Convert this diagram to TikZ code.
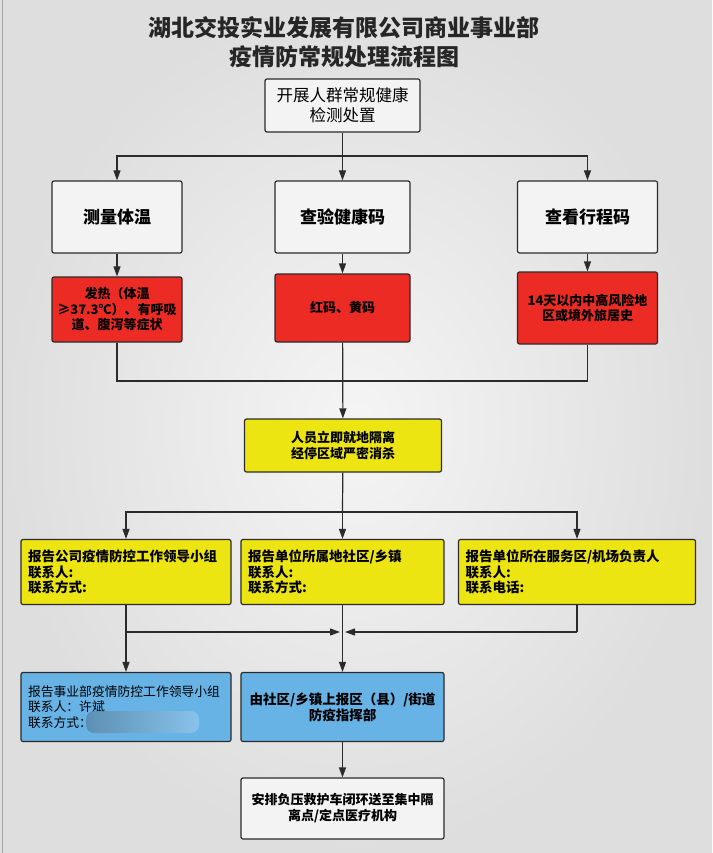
\documentclass[tikz,border=0pt]{standalone}
\usepackage{fontspec}
\setmainfont{Noto Sans CJK SC}
\usetikzlibrary{arrows.meta}
\definecolor{lc}{HTML}{2B2B2B}
\definecolor{cw}{HTML}{F3F3F3}
\definecolor{cr}{HTML}{EC2B24}
\definecolor{cy}{HTML}{EDE512}
\definecolor{cb}{HTML}{68B3E6}
\newcommand\myfs[2]{\fontsize{#1}{#2}\selectfont}
\begin{document}
\begin{tikzpicture}[x=1pt,y=-1pt,
  box/.style={draw=lc, line width=1.2pt, rounded corners=2pt, inner sep=0pt, align=center, text=black},
  wbox/.style={box, fill=cw},
  rbox/.style={box, fill=cr, font=\myfs{13}{15.5}\bfseries},
  ybox/.style={box, fill=cy},
  bbox/.style={box, fill=cb},
  ln/.style={draw=lc, line width=1.2pt},
  arr/.style={ln, -{Triangle[length=10pt,width=7pt]}},
  ttl/.style={font=\myfs{23}{29}\bfseries, text=black!85}]
% background
\shade[inner color=white!96!black, outer color=black!13] (0,0) rectangle (712,853);
\useasboundingbox (0,0) rectangle (712,853);
\draw[black!35, line width=1pt] (2.5,0) -- (2.5,853);
% title
\node[ttl] (t1) at (344,28) {湖北交投实业发展有限公司商业事业部};
\node[ttl] (t2) at (344,57) {疫情防常规处理流程图};
% nodes
\node[wbox, minimum width=155, minimum height=53, font=\myfs{16.5}{20}] (top) at (342.5,105.5) {开展人群常规健康\\检测处置};
\node[wbox, minimum width=130, minimum height=72, font=\myfs{17}{20}\bfseries] (A) at (117,217) {测量体温};
\node[wbox, minimum width=135, minimum height=72, font=\myfs{17}{20}\bfseries] (B) at (342.5,217) {查验健康码};
\node[wbox, minimum width=140, minimum height=72, font=\myfs{17}{20}\bfseries] (C) at (587.5,217) {查看行程码};
\node[rbox, minimum width=130, minimum height=65] (rA) at (117,309.5) {发热（体温\\≥37.3℃）、有呼吸\\道、腹泻等症状};
\node[rbox, minimum width=135, minimum height=68] (rB) at (342.5,308) {红码、黄码};
\node[rbox, minimum width=140, minimum height=72] (rC) at (587.5,308) {14天以内中高风险地\\区或境外旅居史};
\node[ybox, minimum width=197, minimum height=53, font=\myfs{13}{16}\bfseries] (Y) at (343,445.5) {人员立即就地隔离\\经停区域严密消杀};
\node[ybox, minimum width=210, minimum height=65, text width=196, align=left, font=\myfs{13.5}{15.5}\bfseries] (Y1) at (126,572) {报告公司疫情防控工作领导小组\\联系人:\\联系方式:};
\node[ybox, minimum width=203, minimum height=65, text width=189, align=left, font=\myfs{13.5}{15.5}\bfseries] (Y2) at (342.5,572) {报告单位所属地社区/乡镇\\联系人:\\联系方式:};
\node[ybox, minimum width=237, minimum height=65, text width=223, align=left, font=\myfs{13.5}{15.5}\bfseries] (Y3) at (577,572) {报告单位所在服务区/机场负责人\\联系人:\\联系电话:};
\node[bbox, minimum width=210, minimum height=69, text width=196, align=left, font=\myfs{12.8}{15.5}] (B1) at (126,707) {报告事业部疫情防控工作领导小组\\联系人：许斌\\联系方式：};
\node[bbox, minimum width=203, minimum height=69, font=\myfs{13.5}{16}\bfseries] (B2) at (342.5,707) {由社区/乡镇上报区（县）/街道\\防疫指挥部};
\node[wbox, minimum width=203, minimum height=61, font=\myfs{13}{16}\bfseries] (F) at (342.5,808.5) {安排负压救护车闭环送至集中隔\\离点/定点医疗机构};
% redaction blur
\shade[left color=cb!70!black!90, right color=cb!75!white, rounded corners=8pt, opacity=0.85] (86,711) rectangle (199,733);
% junctions
\coordinate (j1) at (342.5,156);
\coordinate (j2) at (342.5,381);
\coordinate (j3) at (342.5,512);
\coordinate (k1) at (126,632);
\coordinate (k3) at (577,632);
\coordinate (jl) at (340,632);
\coordinate (jr) at (345,632);
% connectors
\draw[ln] (top) -- (j1);
\draw[arr] (j1) -| (A);
\draw[arr] (j1) -- (B);
\draw[arr] (j1) -| (C);
\draw[arr] (A) -- (rA);
\draw[arr] (B) -- (rB);
\draw[arr] (C) -- (rC);
\draw[ln] (rA) |- (j2);
\draw[ln] (rC) |- (j2);
\draw[arr] (rB) -- (Y);
\draw[ln] (Y) -- (j3);
\draw[arr] (j3) -| (Y1);
\draw[arr] (j3) -- (Y2);
\draw[arr] (j3) -| (Y3);
\draw[arr] (Y1) -- (B1);
\draw[arr] (Y2) -- (B2);
\draw[arr] (k1) -- (jl);
\draw[ln] (Y3) -- (k3);
\draw[arr] (k3) -- (jr);
\draw[arr] (B2) -- (F);
\end{tikzpicture}
\end{document}
